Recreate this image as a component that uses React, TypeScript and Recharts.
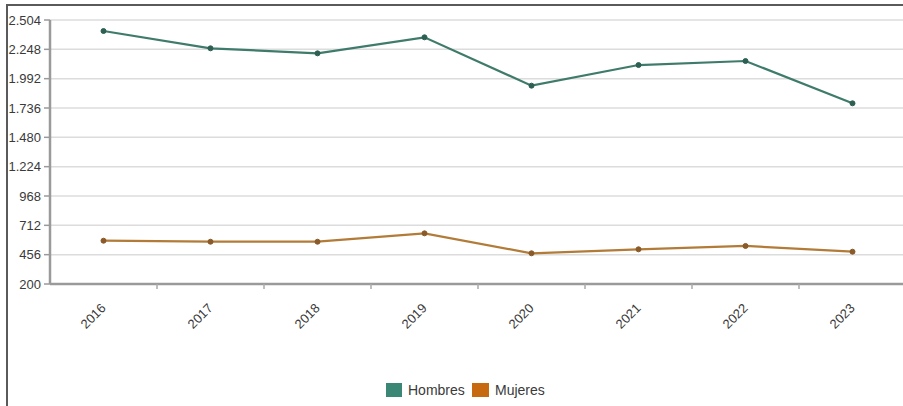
import React from "react";
import { LineChart, Line, XAxis, YAxis, CartesianGrid, Legend } from "recharts";

const years = ["2016", "2017", "2018", "2019", "2020", "2021", "2022", "2023"];
const hombres = [2408, 2257, 2213, 2353, 1931, 2111, 2146, 1777];
const mujeres = [578, 569, 569, 642, 468, 503, 532, 482];
const yTicks = [200, 456, 712, 968, 1224, 1480, 1736, 1992, 2248, 2504];

const seriesNames = { h: "Hombres", m: "Mujeres" };
const colors = {
  hLine: "#3f7b6b",
  hDot: "#2e5f53",
  hSwatch: "#3a8775",
  mLine: "#b27b38",
  mDot: "#8a5a28",
  mSwatch: "#c6690f",
};

const data = years.map((y, i) => ({ year: y, h: hombres[i], m: mujeres[i] }));

const FONT = "'Liberation Sans', Arial, sans-serif";
const HALF = 53.5;

const fmt = (v: number) => {
  const s = String(v);
  return s.length > 3 ? s.slice(0, s.length - 3) + "." + s.slice(s.length - 3) : s;
};

const XTick = (props: any) => {
  const { x, y, payload } = props;
  const axisY = y - 8;
  const ax = x + 3;
  const ay = y + 17;
  return (
    <g>
      <line x1={x + HALF} x2={x + HALF} y1={axisY} y2={axisY + 5} stroke="#aaa" strokeWidth={1.5} />
      <text
        x={ax}
        y={ay}
        textAnchor="end"
        transform={`rotate(-45, ${ax}, ${ay})`}
        fontSize={13}
        fontFamily={FONT}
        fill="#3a3a3a"
      >
        {payload.value}
      </text>
    </g>
  );
};

const LegendContent = () => (
  <div style={{ position: "relative", height: 30, fontFamily: FONT, fontSize: 14, color: "#3a3a3a" }}>
    <div style={{ position: "absolute", left: 386, top: 7, width: 16, height: 14, background: colors.hSwatch }} />
    <div style={{ position: "absolute", left: 408, top: 5, lineHeight: "18px" }}>{seriesNames.h}</div>
    <div style={{ position: "absolute", left: 472, top: 7, width: 17, height: 14, background: colors.mSwatch }} />
    <div style={{ position: "absolute", left: 495, top: 5, lineHeight: "18px" }}>{seriesNames.m}</div>
  </div>
);

export default function App() {
  return (
    <div style={{ position: "absolute", left: 0, top: 0, width: 903, height: 406, overflow: "hidden", background: "#fff" }}>
      <div
        style={{
          position: "absolute",
          left: 6,
          top: 4,
          width: 1000,
          height: 500,
          borderLeft: "2px solid #5a5a5a",
          borderTop: "2px solid #5a5a5a",
        }}
      />
      <div style={{ position: "absolute", left: 0, top: 0 }}>
        <LineChart width={920} height={406} data={data} margin={{ top: 20, right: 14, left: 0, bottom: 0 }}>
          <CartesianGrid vertical={false} stroke="#dcdcdc" strokeWidth={1.5} />
          <XAxis
            dataKey="year"
            height={92}
            padding={{ left: HALF, right: HALF }}
            axisLine={{ stroke: "#9a9a9a", strokeWidth: 2.5 }}
            tickLine={false}
            tick={<XTick />}
            interval={0}
          />
          <YAxis
            width={50}
            domain={[200, 2504]}
            ticks={yTicks}
            interval={0}
            tickFormatter={fmt}
            axisLine={{ stroke: "#9a9a9a", strokeWidth: 2.5 }}
            tickLine={{ stroke: "#9a9a9a", strokeWidth: 1.5 }}
            tickSize={6}
            tickMargin={3}
            tick={{ fontSize: 13, fontFamily: FONT, fill: "#3a3a3a" }}
          />
          <Legend verticalAlign="bottom" height={30} content={<LegendContent />} wrapperStyle={{ left: 0, width: 903 }} />
          <Line
            type="linear"
            dataKey="h"
            name={seriesNames.h}
            stroke={colors.hLine}
            strokeWidth={2.2}
            dot={{ r: 2.5, fill: colors.hDot, stroke: colors.hDot, strokeWidth: 1 }}
            isAnimationActive={false}
          />
          <Line
            type="linear"
            dataKey="m"
            name={seriesNames.m}
            stroke={colors.mLine}
            strokeWidth={2.2}
            dot={{ r: 2.5, fill: colors.mDot, stroke: colors.mDot, strokeWidth: 1 }}
            isAnimationActive={false}
          />
        </LineChart>
      </div>
    </div>
  );
}
